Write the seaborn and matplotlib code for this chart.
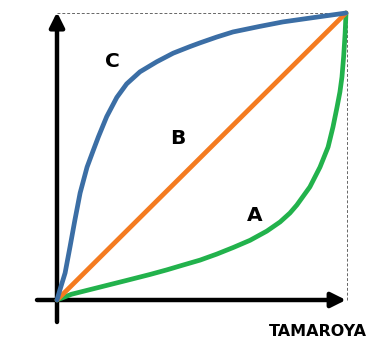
import matplotlib
matplotlib.use("Agg")
import matplotlib.pyplot as plt
import seaborn as sns
import pandas as pd

# ---- data (normalized 0..1) ----
c_x = [0.0, 0.010, 0.028, 0.045, 0.062, 0.080, 0.104, 0.125, 0.143, 0.172, 0.207, 0.241, 0.287, 0.345, 0.402, 0.460, 0.495, 0.552, 0.609, 0.700, 0.782, 0.880, 1.0]
c_y = [0.0, 0.035, 0.094, 0.185, 0.279, 0.373, 0.463, 0.520, 0.568, 0.639, 0.706, 0.753, 0.795, 0.830, 0.860, 0.883, 0.896, 0.916, 0.934, 0.953, 0.969, 0.983, 1.0]

b_x = [0.0, 1.0]
b_y = [0.0, 1.0]

a_x = [0.0, 0.050, 0.149, 0.240, 0.322, 0.380, 0.437, 0.495, 0.553, 0.610, 0.668, 0.726, 0.772, 0.806, 0.830, 0.875, 0.910, 0.938, 0.955, 0.969, 0.979, 0.986, 0.992, 0.997, 1.0]
a_y = [0.0, 0.020, 0.045, 0.068, 0.089, 0.105, 0.122, 0.139, 0.160, 0.183, 0.208, 0.240, 0.272, 0.303, 0.331, 0.394, 0.463, 0.533, 0.603, 0.672, 0.725, 0.777, 0.850, 0.930, 1.0]

labels = ["A", "B", "C"]
label_pos = {"C": (0.192, 0.832), "B": (0.419, 0.561), "A": (0.685, 0.296)}
brand = "TAMAROYA"

colors = {"A": "#22b24c", "B": "#f47b20", "C": "#3b6ea5"}

frames = []
for name, xs, ys in [("A", a_x, a_y), ("B", b_x, b_y), ("C", c_x, c_y)]:
    frames.append(pd.DataFrame({"x": xs, "y": ys, "curve": name}))
df = pd.concat(frames, ignore_index=True)

sns.set_style("white")
fig = plt.figure(figsize=(3.83, 3.47), dpi=100)
ax = fig.add_axes([0, 0, 1, 1])

# pixel mapping: origin at (57,300) px, (1,1) at (346,13) px
sx, sy = 289.0, 287.0
ax.set_xlim(-57 / sx, (383 - 57) / sx)
ax.set_ylim(-47 / sy, (347 - 47) / sy)
ax.axis("off")

# dashed box (top and right)
ax.plot([0, 1.005], [1.0, 1.0], ls=(0, (3, 2)), lw=0.7, color="#666666", zorder=1)
ax.plot([1.005, 1.005], [0, 1.0], ls=(0, (3, 2)), lw=0.7, color="#666666", zorder=1)

# axes arrows
ax.annotate("", xy=(0, 1.003), xytext=(0, -22 / sy),
            arrowprops=dict(arrowstyle="-|>", lw=3.2, color="black",
                            mutation_scale=22, shrinkA=0, shrinkB=0), zorder=2)
ax.annotate("", xy=(1.0, 0), xytext=(-20 / sx, 0),
            arrowprops=dict(arrowstyle="-|>", lw=3.2, color="black",
                            mutation_scale=22, shrinkA=0, shrinkB=0), zorder=2)

sns.lineplot(data=df, x="x", y="y", hue="curve", units="curve", estimator=None,
             sort=False, palette=colors, lw=3.4, legend=False, ax=ax, zorder=3)
for line in ax.get_lines()[2:]:
    line.set_solid_capstyle("round")
    line.set_solid_joinstyle("round")

for lab in labels:
    x, y = label_pos[lab]
    ax.text(x, y, lab, fontsize=14.5, fontweight="bold", family="DejaVu Sans",
            ha="center", va="center", color="black")

ax.text((318 - 57) / sx, (300 - 332) / sy, brand, fontsize=11.5, fontweight="bold",
        family="DejaVu Sans", ha="center", va="center", color="black")

fig.savefig("out.png", dpi=100)
